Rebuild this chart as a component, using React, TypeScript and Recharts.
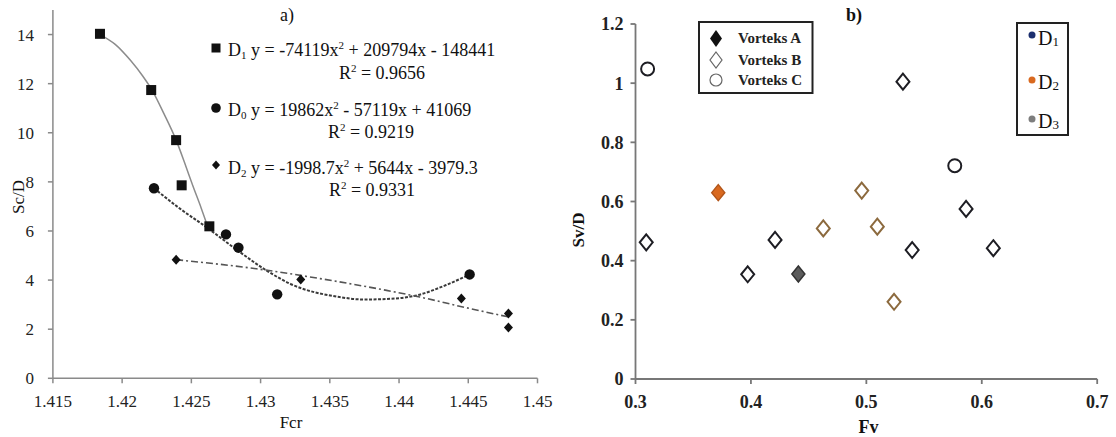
import React from 'react'
import { ComposedChart, ScatterChart, Scatter, Line, XAxis, YAxis } from 'recharts'

const SERIF = "'Liberation Serif', 'Times New Roman', serif"

// ---- panel a) : Sc/D against Fcr ----
const fcrTicks = [1.415, 1.42, 1.425, 1.43, 1.435, 1.44, 1.445, 1.45]
const scTicks = [0, 2, 4, 6, 8, 10, 12, 14]

const d1Points = [
  { x: 1.4184, y: 14.03 },
  { x: 1.4221, y: 11.74 },
  { x: 1.4239, y: 9.7 },
  { x: 1.4243, y: 7.86 },
  { x: 1.4263, y: 6.19 },
]
const d0Points = [
  { x: 1.4223, y: 7.74 },
  { x: 1.4275, y: 5.86 },
  { x: 1.4284, y: 5.32 },
  { x: 1.4312, y: 3.42 },
  { x: 1.4451, y: 4.23 },
]
const d2Points = [
  { x: 1.4239, y: 4.83 },
  { x: 1.4329, y: 4.02 },
  { x: 1.4445, y: 3.25 },
  { x: 1.4479, y: 2.64 },
  { x: 1.4479, y: 2.07 },
]

// polynomial trend lines, sampled along the fitted curves
const d1Trend = [
  { x: 1.4184, y: 14.0 },
  { x: 1.4195, y: 13.6 },
  { x: 1.4206, y: 12.95 },
  { x: 1.4215, y: 12.3 },
  { x: 1.4222, y: 11.7 },
  { x: 1.423, y: 10.8 },
  { x: 1.4239, y: 9.7 },
  { x: 1.4245, y: 8.8 },
  { x: 1.4251, y: 7.85 },
  { x: 1.4257, y: 6.95 },
  { x: 1.4262, y: 6.15 },
]
const d0Trend = [
  { x: 1.4223, y: 7.74 },
  { x: 1.4242, y: 6.9 },
  { x: 1.4261, y: 6.15 },
  { x: 1.4285, y: 5.14 },
  { x: 1.4304, y: 4.4 },
  { x: 1.4321, y: 3.86 },
  { x: 1.4357, y: 3.31 },
  { x: 1.4374, y: 3.21 },
  { x: 1.4391, y: 3.23 },
  { x: 1.4413, y: 3.38 },
  { x: 1.4434, y: 3.8 },
  { x: 1.445, y: 4.2 },
]
const d2Trend = [
  { x: 1.4239, y: 4.83 },
  { x: 1.4297, y: 4.46 },
  { x: 1.4343, y: 4.06 },
  { x: 1.4391, y: 3.58 },
  { x: 1.4415, y: 3.31 },
  { x: 1.4448, y: 2.88 },
  { x: 1.4479, y: 2.5 },
]

// ---- panel b) : Sv/D against Fv ----
const fvTicks = [0.3, 0.4, 0.5, 0.6, 0.7]
const svTicks = [0, 0.2, 0.4, 0.6, 0.8, 1, 1.2]

const vortexA_D2 = [{ x: 0.3717, y: 0.63 }]
const vortexA_D3 = [{ x: 0.4411, y: 0.355 }]
const vortexB_D1 = [
  { x: 0.3093, y: 0.462 },
  { x: 0.3972, y: 0.354 },
  { x: 0.4209, y: 0.47 },
  { x: 0.5317, y: 1.005 },
  { x: 0.5397, y: 0.436 },
  { x: 0.5864, y: 0.575 },
  { x: 0.61, y: 0.442 },
]
const vortexB_D2 = [
  { x: 0.4627, y: 0.509 },
  { x: 0.496, y: 0.637 },
  { x: 0.5095, y: 0.515 },
  { x: 0.524, y: 0.261 },
]
const vortexC_D1 = [
  { x: 0.3105, y: 1.048 },
  { x: 0.5766, y: 0.721 },
]

const D1_COLOR = '#1c2f6e'
const D2_COLOR = '#d9691f'
const D3_COLOR = '#7d7d7d'
const D2_EDGE = '#8c6a3e'

const fmt = (v: number) => String(+v.toFixed(3))

// axis tick labels drawn by hand so the serif face is kept
const xTick = (size: number, weight: number) => (p: any) => (
  <text
    x={p.x}
    y={p.y}
    dy="0.71em"
    textAnchor="middle"
    fontSize={size}
    fontWeight={weight}
    fontFamily={SERIF}
    fill="#222"
  >
    {fmt(p.payload.value)}
  </text>
)
const yTick = (size: number, weight: number) => (p: any) => (
  <text
    x={p.x}
    y={p.y}
    dy="0.355em"
    textAnchor="end"
    fontSize={size}
    fontWeight={weight}
    fontFamily={SERIF}
    fill="#222"
  >
    {fmt(p.payload.value)}
  </text>
)

const squareShape = (p: any) => (
  <rect x={p.cx - 5} y={p.cy - 5} width={10} height={10} fill="#111" />
)
const dotShape = (p: any) => <circle cx={p.cx} cy={p.cy} r={5.2} fill="#111" />
const smallDiamond = (p: any) => (
  <path
    d={`M${p.cx},${p.cy - 5} L${p.cx + 4.5},${p.cy} L${p.cx},${p.cy + 5} L${p.cx - 4.5},${p.cy} Z`}
    fill="#111"
  />
)

const diamondPath = (cx: number, cy: number) =>
  `M${cx},${cy - 8} L${cx + 6.5},${cy} L${cx},${cy + 8} L${cx - 6.5},${cy} Z`

const filledDiamond = (fill: string, edge: string) => (p: any) => (
  <path d={diamondPath(p.cx, p.cy)} fill={fill} stroke={edge} strokeWidth={1.5} />
)
const openDiamond = (edge: string) => (p: any) => (
  <path d={diamondPath(p.cx, p.cy)} fill="#fff" stroke={edge} strokeWidth={2} />
)
const openCircle = (edge: string) => (p: any) => (
  <circle cx={p.cx} cy={p.cy} r={6.5} fill="#fff" stroke={edge} strokeWidth={2} />
)

function Equation({ x, y, sub, parts }: { x: number; y: number; sub: string; parts: [string, string] }) {
  return (
    <text x={x} y={y} fontSize={18} fontFamily={SERIF} fill="#111">
      <tspan>D</tspan>
      <tspan fontSize={11} dy={3}>{sub}</tspan>
      <tspan dy={-3}>{' y = ' + parts[0]}</tspan>
      <tspan fontSize={11} dy={-7}>2</tspan>
      <tspan dy={7}>{parts[1]}</tspan>
    </text>
  )
}

function RSquared({ x, y, value }: { x: number; y: number; value: string }) {
  return (
    <text x={x} y={y} fontSize={18} fontFamily={SERIF} fill="#111" textAnchor="middle">
      <tspan>R</tspan>
      <tspan fontSize={11} dy={-7}>2</tspan>
      <tspan dy={7}>{' = ' + value}</tspan>
    </text>
  )
}

function PanelA() {
  return (
    <div style={{ position: 'absolute', left: 0, top: 0, width: 560, height: 437 }}>
      <ComposedChart width={560} height={437} margin={{ top: 10, right: 22.5, bottom: 18.7, left: 0 }}>
        <XAxis
          type="number"
          dataKey="x"
          domain={[1.415, 1.45]}
          ticks={fcrTicks}
          interval={0}
          allowDataOverflow
          stroke="#8a8a8a"
          strokeWidth={1.5}
          tick={xTick(17, 400)}
          tickSize={5}
          tickMargin={12}
          height={40}
        />
        <YAxis
          type="number"
          dataKey="y"
          domain={[0, 15]}
          ticks={scTicks}
          interval={0}
          allowDataOverflow
          stroke="#8a8a8a"
          strokeWidth={1.5}
          tick={yTick(17, 400)}
          tickSize={5}
          tickMargin={14}
          width={52.9}
        />
        <Line data={d1Trend} dataKey="y" type="monotone" stroke="#8c8c8c" strokeWidth={1.5} dot={false} isAnimationActive={false} />
        <Line data={d0Trend} dataKey="y" type="monotone" stroke="#3a3a3a" strokeWidth={2} strokeDasharray="3 1.5" dot={false} isAnimationActive={false} />
        <Line data={d2Trend} dataKey="y" type="monotone" stroke="#555" strokeWidth={1.6} strokeDasharray="7 3 2 3" dot={false} isAnimationActive={false} />
        <Scatter data={d1Points} shape={squareShape} isAnimationActive={false} />
        <Scatter data={d0Points} shape={dotShape} isAnimationActive={false} />
        <Scatter data={d2Points} shape={smallDiamond} isAnimationActive={false} />
      </ComposedChart>
      <svg width={560} height={437} style={{ position: 'absolute', left: 0, top: 0, pointerEvents: 'none' }}>
        <text x={287} y={21} fontSize={18} fontFamily={SERIF} textAnchor="middle" fill="#111">a)</text>

        <rect x={211.5} y={43.5} width={9} height={9} fill="#111" />
        <Equation x={228} y={56} sub="1" parts={['-74119x', ' + 209794x - 148441']} />
        <RSquared x={382} y={79} value="0.9656" />

        <circle cx={216} cy={108} r={4.8} fill="#111" />
        <Equation x={228} y={116} sub="0" parts={['19862x', ' - 57119x + 41069']} />
        <RSquared x={371} y={138} value="0.9219" />

        <path d="M216,160.5 L220,165 L216,169.5 L212,165 Z" fill="#111" />
        <Equation x={228} y={174} sub="2" parts={['-1998.7x', ' + 5644x - 3979.3']} />
        <RSquared x={372} y={196} value="0.9331" />

        <text x={291} y={428} fontSize={17} fontFamily={SERIF} textAnchor="middle" fill="#111">Fcr</text>
        <text
          x={18}
          y={197}
          fontSize={17}
          fontFamily={SERIF}
          textAnchor="middle"
          dominantBaseline="central"
          fill="#111"
          transform="rotate(-90 18 197)"
        >
          Sc/D
        </text>
      </svg>
    </div>
  )
}

function PanelB() {
  return (
    <div style={{ position: 'absolute', left: 560, top: 0, width: 556, height: 437 }}>
      <ScatterChart width={556} height={437} margin={{ top: 24, right: 18.8, bottom: 18, left: 0 }}>
        <XAxis
          type="number"
          dataKey="x"
          domain={[0.3, 0.7]}
          ticks={fvTicks}
          interval={0}
          allowDataOverflow
          stroke="#777"
          strokeWidth={1.8}
          tick={xTick(18, 700)}
          tickSize={5}
          tickMargin={11}
          height={40}
        />
        <YAxis
          type="number"
          dataKey="y"
          domain={[0, 1.2]}
          ticks={svTicks}
          interval={0}
          allowDataOverflow
          stroke="#777"
          strokeWidth={1.8}
          tick={yTick(18, 700)}
          tickSize={5}
          tickMargin={7}
          width={75.5}
        />
        <Scatter data={vortexB_D1} shape={openDiamond('#1e1e24')} isAnimationActive={false} />
        <Scatter data={vortexB_D2} shape={openDiamond(D2_EDGE)} isAnimationActive={false} />
        <Scatter data={vortexC_D1} shape={openCircle('#1e1e24')} isAnimationActive={false} />
        <Scatter data={vortexA_D2} shape={filledDiamond(D2_COLOR, '#b3561a')} isAnimationActive={false} />
        <Scatter data={vortexA_D3} shape={filledDiamond('#5c5c5c', '#333')} isAnimationActive={false} />
      </ScatterChart>
      <svg width={556} height={437} style={{ position: 'absolute', left: 0, top: 0, pointerEvents: 'none' }}>
        <text x={294} y={21} fontSize={18} fontWeight={700} fontFamily={SERIF} textAnchor="middle" fill="#111">b)</text>

        {/* marker-type legend */}
        <rect x={139} y={22} width={113.5} height={71} fill="#fff" stroke="#222" strokeWidth={2} />
        <path d="M156,30 L162,38.5 L156,47 L150,38.5 Z" fill="#111" />
        <path d="M156,52 L162,60 L156,68 L150,60 Z" fill="#fff" stroke="#666" strokeWidth={1.2} />
        <circle cx={156} cy={80} r={6} fill="#fff" stroke="#666" strokeWidth={1.2} />
        <text x={178} y={43} fontSize={15} fontWeight={700} fontFamily={SERIF} fill="#222">Vorteks A</text>
        <text x={178} y={65} fontSize={15} fontWeight={700} fontFamily={SERIF} fill="#222">Vorteks B</text>
        <text x={178} y={85} fontSize={15} fontWeight={700} fontFamily={SERIF} fill="#222">Vorteks C</text>

        {/* diameter legend */}
        <rect x={457} y={23} width={51} height={112} fill="#fff" stroke="#222" strokeWidth={2} />
        <circle cx={472} cy={35} r={3.5} fill={D1_COLOR} />
        <circle cx={472} cy={80} r={3.5} fill={D2_COLOR} />
        <circle cx={472} cy={119} r={3.5} fill={D3_COLOR} />
        {[
          { y: 45, s: '1' },
          { y: 89, s: '2' },
          { y: 128, s: '3' },
        ].map(d => (
          <text key={d.s} x={478} y={d.y} fontSize={20} fontFamily={SERIF} fill="#111">
            <tspan>D</tspan>
            <tspan fontSize={13} dy={1}>{d.s}</tspan>
          </text>
        ))}

        <text x={308.5} y={433} fontSize={18} fontWeight={700} fontFamily={SERIF} textAnchor="middle" fill="#111">Fv</text>
        <text
          x={18}
          y={230}
          fontSize={17}
          fontWeight={700}
          fontFamily={SERIF}
          textAnchor="middle"
          dominantBaseline="central"
          fill="#111"
          transform="rotate(-90 18 230)"
        >
          Sv/D
        </text>
      </svg>
    </div>
  )
}

export default function App() {
  return (
    <div
      style={{
        position: 'absolute',
        left: 0,
        top: 0,
        width: 1116,
        height: 437,
        background: '#fff',
        fontFamily: SERIF,
      }}
    >
      <PanelA />
      <PanelB />
    </div>
  )
}
